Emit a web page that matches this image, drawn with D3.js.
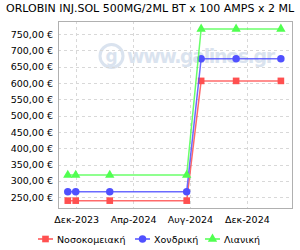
<!DOCTYPE html>
<html lang="el">
<head>
<meta charset="utf-8" />
<title>ORLOBIN price chart</title>
<script src="https://d3js.org/d3.v7.min.js"></script>
<style>
  html, body { margin: 0; padding: 0; background: #fff; }
  svg { display: block; font-family: "DejaVu Sans", sans-serif; }
</style>
</head>
<body>
<div id="chart"></div>
<script>
// data
var dates = ["2023-11-13", "2023-11-30", "2024-02-11", "2024-07-25", "2024-08-25", "2024-11-08", "2025-02-12"];
var hospital  = [239.6, 239.6, 239.6, 239.6, 606.5, 606.5, 606.5];   // Νοσοκομειακή
var wholesale = [267.0, 267.0, 267.0, 267.0, 674.5, 674.5, 674.5];   // Χονδρική
var retail    = [318.0, 318.0, 318.0, 318.0, 765.5, 765.5, 765.5];   // Λιανική
var seriesNames = ["Νοσοκομειακή", "Χονδρική", "Λιανική"];
var xTickDates = ["2023-12-01", "2024-04-01", "2024-08-01", "2024-12-01"];
var xTickLabels = ["Δεκ-2023", "Απρ-2024", "Αυγ-2024", "Δεκ-2024"];
var yTicks = [250, 300, 350, 400, 450, 500, 550, 600, 650, 700, 750];

var width = 300, height = 250;
var margin = {top: 21, right: 7, bottom: 41, left: 58};
var parse = d3.timeParse("%Y-%m-%d");

var svg = d3.select("#chart").append("svg")
    .attr("width", width)
    .attr("height", height);

// title
svg.append("text")
    .attr("x", width / 2)
    .attr("y", 12)
    .attr("text-anchor", "middle")
    .style("font-size", "11px")
    .attr("fill", "#000")
    .text("ORLOBIN INJ.SOL 500MG/2ML BT x 100 AMPS x 2 ML");

var x = d3.scaleTime()
    .domain([parse("2023-10-23"), parse("2025-03-10")])
    .range([margin.left, width - margin.right]);
var y = d3.scaleLinear()
    .domain([214, 790])
    .range([height - margin.bottom, margin.top]);

// watermark
var wm = svg.append("g").attr("opacity", 0.55);
wm.append("circle")
    .attr("cx", 111.5).attr("cy", 56).attr("r", 11.5)
    .attr("fill", "none").attr("stroke", "#bccde2").attr("stroke-width", 3);
wm.append("text")
    .attr("x", 111.5).attr("y", 62)
    .attr("text-anchor", "middle")
    .style("font-size", "17px").style("font-weight", "bold")
    .attr("fill", "#bccde2")
    .text("g");
wm.append("text")
    .attr("x", 127).attr("y", 63)
    .attr("textLength", 148)
    .style("font-size", "19px").style("font-weight", "bold")
    .attr("fill", "#bccde2")
    .text("www.galinos.gr");

// grid lines
svg.append("g")
    .selectAll("line")
    .data(yTicks)
    .join("line")
    .attr("x1", margin.left).attr("x2", width - margin.right)
    .attr("y1", function(d) { return Math.round(y(d)) + 0.5; })
    .attr("y2", function(d) { return Math.round(y(d)) + 0.5; })
    .attr("stroke", "#d8d8d8")
    .attr("stroke-dasharray", "3,3");
svg.append("g")
    .selectAll("line")
    .data(xTickDates)
    .join("line")
    .attr("x1", function(d) { return Math.round(x(parse(d))) + 0.5; })
    .attr("x2", function(d) { return Math.round(x(parse(d))) + 0.5; })
    .attr("y1", margin.top).attr("y2", height - margin.bottom)
    .attr("stroke", "#d8d8d8")
    .attr("stroke-dasharray", "3,3");

// frame
svg.append("rect")
    .attr("x", margin.left + 0.5).attr("y", margin.top + 0.5)
    .attr("width", width - margin.left - margin.right - 1)
    .attr("height", height - margin.top - margin.bottom - 1)
    .attr("fill", "none")
    .attr("stroke", "#b0b0b0");

// y axis labels
var yAxis = d3.axisLeft(y)
    .tickValues(yTicks)
    .tickSize(0)
    .tickPadding(5)
    .tickFormat(function(d) { return d3.format(".2f")(d).replace(".", ",") + " €"; });
svg.append("g")
    .attr("transform", "translate(" + margin.left + ",0)")
    .call(yAxis)
    .call(function(g) { g.select(".domain").remove(); })
    .selectAll("text")
    .style("font-size", "9.5px")
    .style("font-family", "DejaVu Sans, sans-serif")
    .attr("fill", "#000");

// x axis labels
var xAxis = d3.axisBottom(x)
    .tickValues(xTickDates.map(parse))
    .tickSize(0)
    .tickPadding(7)
    .tickFormat(function(d, i) { return xTickLabels[i]; });
svg.append("g")
    .attr("transform", "translate(0," + (height - margin.bottom) + ")")
    .call(xAxis)
    .call(function(g) { g.select(".domain").remove(); })
    .selectAll("text")
    .style("font-size", "9.5px")
    .style("font-family", "DejaVu Sans, sans-serif")
    .attr("fill", "#000");

// series
var series = [
  {name: seriesNames[0], values: hospital,  color: "#ff5050", shape: d3.symbolSquare,   size: 44},
  {name: seriesNames[1], values: wholesale, color: "#5050ff", shape: d3.symbolCircle,   size: 44},
  {name: seriesNames[2], values: retail,    color: "#50ff50", shape: d3.symbolTriangle, size: 38}
];

var line = d3.line()
    .x(function(d) { return x(d.date); })
    .y(function(d) { return y(d.value); });

series.forEach(function(s) {
  var pts = dates.map(function(d, i) { return {date: parse(d), value: s.values[i]}; });
  svg.append("path")
      .datum(pts)
      .attr("d", line)
      .attr("fill", "none")
      .attr("stroke", s.color)
      .attr("stroke-opacity", 0.85)
      .attr("stroke-width", 1.5);
  svg.append("g")
      .selectAll("path")
      .data(pts)
      .join("path")
      .attr("transform", function(d) { return "translate(" + x(d.date) + "," + y(d.value) + ")"; })
      .attr("d", d3.symbol().type(s.shape).size(s.size))
      .attr("fill", s.color);
});

// legend
var legendX = [38, 135, 205];
var legend = svg.append("g");
series.forEach(function(s, i) {
  var g = legend.append("g").attr("transform", "translate(" + legendX[i] + ",239)");
  g.append("line")
      .attr("x1", 0).attr("x2", 15)
      .attr("stroke", s.color).attr("stroke-width", 1.5);
  g.append("path")
      .attr("transform", "translate(7.5,0)")
      .attr("d", d3.symbol().type(s.shape).size(s.size))
      .attr("fill", s.color);
  g.append("text")
      .attr("x", 19).attr("y", 3.5)
      .style("font-size", "9.5px")
      .attr("fill", "#000")
      .text(s.name);
});
</script>
</body>
</html>
